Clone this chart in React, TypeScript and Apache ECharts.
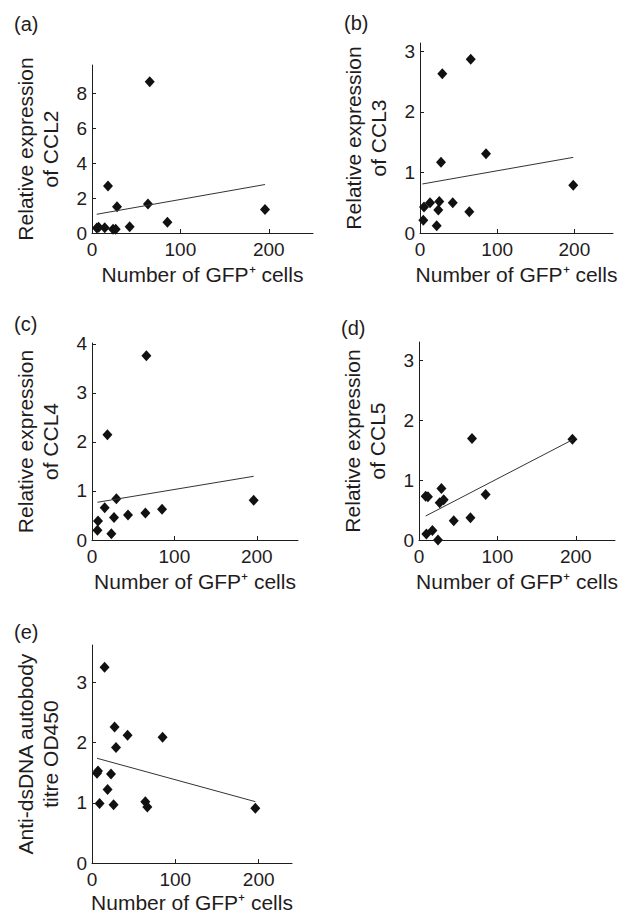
import React, { useEffect, useRef } from "react";
import * as echarts from "echarts";

// ---- data ----
const ccl2X = [5.5, 7.5, 14.4, 18.1, 23.8, 26.8, 28.3, 42.6, 63.3, 65.3, 85.3, 195.7];
const ccl2Y = [0.28, 0.33, 0.3, 2.69, 0.21, 0.21, 1.5, 0.36, 1.66, 8.65, 0.61, 1.35];
const ccl2Fit = [[5.3, 1.07], [195.7, 2.77]];

const ccl3X = [4.3, 5.2, 13, 21.6, 23.7, 25, 27.2, 28.9, 42.4, 63.9, 65.7, 85.5, 198.5];
const ccl3Y = [0.21, 0.43, 0.5, 0.12, 0.38, 0.52, 1.17, 2.63, 0.5, 0.35, 2.87, 1.31, 0.79];
const ccl3Fit = [[3, 0.81], [198.5, 1.25]];

const ccl4X = [6.6, 7.3, 15.4, 18.7, 23.5, 26.7, 29.6, 43.7, 64.8, 66, 85, 196.2];
const ccl4Y = [0.2, 0.39, 0.66, 2.15, 0.13, 0.46, 0.84, 0.51, 0.55, 3.76, 0.63, 0.81];
const ccl4Fit = [[6.6, 0.77], [196.2, 1.3]];

const ccl5X = [8.5, 11.4, 9.4, 17.1, 24.2, 26.4, 28.6, 31.5, 44.3, 65.6, 67.6, 85, 195.7];
const ccl5Y = [0.73, 0.72, 0.1, 0.16, 0.0, 0.62, 0.86, 0.67, 0.32, 0.37, 1.69, 0.76, 1.68];
const ccl5Fit = [[8.5, 0.4], [195.7, 1.67]];

const dsX = [7.2, 6, 9.1, 15.1, 18.7, 22.8, 25.9, 27.1, 28.8, 42.7, 64, 66.4, 84.7, 196];
const dsY = [1.53, 1.49, 0.99, 3.25, 1.22, 1.48, 0.97, 2.26, 1.92, 2.12, 1.02, 0.93, 2.09, 0.91];
const dsFit = [[6, 1.74], [196, 1.02]];

const xTicks = [0, 100, 200];
const yTicksA = [0, 2, 4, 6, 8];
const yTicksB = [0, 1, 2, 3];
const yTicksC = [0, 1, 2, 3, 4];
const yTicksD = [0, 1, 2, 3];
const yTicksE = [0, 1, 2, 3];

const panelLabels = ["(a)", "(b)", "(c)", "(d)", "(e)"];
const yTitles = [
  "Relative expression\nof CCL2",
  "Relative expression\nof CCL3",
  "Relative expression\nof CCL4",
  "Relative expression\nof CCL5",
  "Anti-dsDNA autobody\ntitre OD450",
];
const xTitle = "Number of GFP\u207A cells";

const FONT = "'Liberation Sans', Arial, Helvetica, sans-serif";
const INK = "#1f1c1d";

export default function App() {
  const ref = useRef<HTMLDivElement>(null);

  useEffect(() => {
    if (!ref.current) return;
    const chart = echarts.init(ref.current, undefined, { renderer: "svg" });

    const panels = [
      { xs: ccl2X, ys: ccl2Y, fit: ccl2Fit, yTicks: yTicksA, xMax: 250, yMax: 9.6,
        grid: { left: 92, top: 65, width: 221, height: 168 }, xGap: 29, lab: [14, 24] },
      { xs: ccl3X, ys: ccl3Y, fit: ccl3Fit, yTicks: yTicksB, xMax: 250, yMax: 3.14,
        grid: { left: 420, top: 43, width: 193, height: 190 }, xGap: 29, lab: [344, 23] },
      { xs: ccl4X, ys: ccl4Y, fit: ccl4Fit, yTicks: yTicksC, xMax: 250, yMax: 4.02,
        grid: { left: 92, top: 343, width: 206, height: 197 }, xGap: 29, lab: [14, 324] },
      { xs: ccl5X, ys: ccl5Y, fit: ccl5Fit, yTicks: yTicksD, xMax: 250, yMax: 3.3,
        grid: { left: 419, top: 342, width: 196, height: 198 }, xGap: 29, lab: [341, 328] },
      { xs: dsX, ys: dsY, fit: dsFit, yTicks: yTicksE, xMax: 240, yMax: 3.62,
        grid: { left: 92, top: 645, width: 200, height: 221 }, xGap: 24, lab: [14, 632] },
    ];

    const axisLine = { show: true, lineStyle: { color: INK, width: 1 } };
    const labelStyle = { color: INK, fontSize: 19, fontFamily: FONT };

    const option: any = {
      animation: false,
      backgroundColor: "#ffffff",
      grid: panels.map((p) => ({ ...p.grid, containLabel: false })),
      xAxis: panels.map((p, i) => ({
        type: "value",
        gridIndex: i,
        min: 0,
        max: p.xMax,
        axisLine,
        axisTick: { show: true, inside: true, length: 4, lineStyle: { color: INK }, customValues: xTicks },
        axisLabel: { ...labelStyle, margin: 7, customValues: xTicks },
        splitLine: { show: false },
        name: xTitle,
        nameLocation: "middle",
        nameGap: p.xGap,
        nameTextStyle: { color: INK, fontSize: 21, fontFamily: FONT, lineHeight: 25 },
      })),
      yAxis: panels.map((p, i) => ({
        type: "value",
        gridIndex: i,
        min: 0,
        max: p.yMax,
        axisLine,
        axisTick: { show: true, inside: true, length: 4, lineStyle: { color: INK }, customValues: p.yTicks },
        axisLabel: { ...labelStyle, margin: 5, customValues: p.yTicks },
        splitLine: { show: false },
        name: yTitles[i],
        nameLocation: "middle",
        nameGap: 29,
        nameTextStyle: { color: INK, fontSize: 21, fontFamily: FONT, lineHeight: 25 },
      })),
      series: panels.flatMap((p, i) => [
        {
          type: "scatter",
          xAxisIndex: i,
          yAxisIndex: i,
          symbol: "diamond",
          symbolSize: [10, 11],
          clip: false,
          itemStyle: { color: "#111111", opacity: 1 },
          data: p.xs.map((x, k) => [x, p.ys[k]]),
        },
        {
          type: "line",
          xAxisIndex: i,
          yAxisIndex: i,
          symbol: "none",
          lineStyle: { color: "#333333", width: 1 },
          data: p.fit,
        },
      ]),
      graphic: panels.map((p, i) => ({
        type: "text",
        x: p.lab[0],
        y: p.lab[1],
        style: {
          text: panelLabels[i],
          fill: INK,
          fontSize: 20,
          fontFamily: FONT,
          verticalAlign: "middle",
          align: "left",
        },
      })),
    };

    chart.setOption(option);
    return () => chart.dispose();
  }, []);

  return (
    <div
      ref={ref}
      style={{ position: "fixed", left: 0, top: 0, width: 630, height: 916, background: "#fff" }}
    />
  );
}
